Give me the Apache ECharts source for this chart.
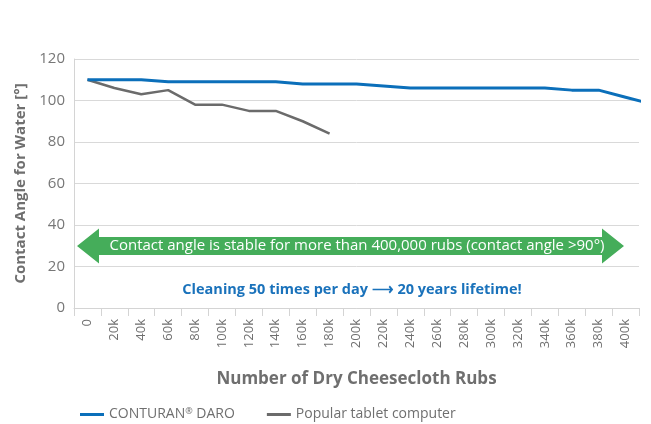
<!DOCTYPE html>
<html>
<head>
<meta charset="utf-8">
<script src="https://cdn.jsdelivr.net/npm/echarts@6/dist/echarts.min.js"></script>
<style>
  html, body { margin: 0; padding: 0; background: #fff; }
  #chart { width: 651px; height: 424px; }
</style>
</head>
<body>
<div id="chart"></div>
<script>
// x categories (last one only carries the line to the edge, it is outside the axis range)
var rubs = ['0', '20k', '40k', '60k', '80k', '100k', '120k', '140k', '160k', '180k', '200k',
  '220k', '240k', '260k', '280k', '300k', '320k', '340k', '360k', '380k', '400k', '420k'];
var conturan = [110, 110, 110, 109, 109, 109, 109, 109, 108, 108, 108,
  107, 106, 106, 106, 106, 106, 106, 105, 105, 101.6, 98.2];
var tablet = [110, 106, 103, 105, 98, 98, 95, 95, 90, 84];
var yTicks = [0, 120, 20];

var font = '"Open Sans", sans-serif';
var grey = '#6f6f6f';

var myChart = echarts.init(document.getElementById('chart'));

// arrow shape (pixel coords)
function arrowPoints(x1, x2, yc, head, hh, bh) {
  return [
    [x1, yc], [x1 + head, yc - hh], [x1 + head, yc - bh],
    [x2 - head, yc - bh], [x2 - head, yc - hh], [x2, yc],
    [x2 - head, yc + hh], [x2 - head, yc + bh], [x1 + head, yc + bh],
    [x1 + head, yc + hh]
  ];
}

myChart.setOption({
  animation: false,
  textStyle: { fontFamily: font },
  grid: { left: 74, right: 12, top: 59, bottom: 116 },
  legend: {
    left: 75,
    top: 402,
    itemWidth: 24,
    itemHeight: 3,
    itemGap: 32,
    icon: 'rect',
    textStyle: {
      color: grey, fontSize: 14, fontFamily: font,
      rich: { sup: { fontSize: 9, verticalAlign: 'top', color: grey, padding: [0, 0, 6, 0] } }
    },
    formatter: function (name) {
      return name === 'CONTURAN® DARO' ? 'CONTURAN{sup|®} DARO' : name;
    },
    data: ['CONTURAN® DARO', 'Popular tablet computer']
  },
  xAxis: {
    type: 'category',
    data: rubs,
    max: 20,
    boundaryGap: true,
    name: 'Number of Dry Cheesecloth Rubs',
    nameLocation: 'middle',
    nameGap: 63,
    nameTextStyle: { color: grey, fontSize: 17, fontWeight: 'bold' },
    axisLine: { lineStyle: { color: '#d4d4d4', width: 1 } },
    axisTick: { show: true, length: 8, lineStyle: { color: '#d4d4d4' } },
    axisLabel: { rotate: 90, color: grey, fontSize: 13, margin: 11, interval: 0 }
  },
  yAxis: {
    type: 'value',
    min: yTicks[0],
    max: yTicks[1],
    interval: yTicks[2],
    name: 'Contact Angle for Water [°]',
    nameLocation: 'middle',
    nameGap: 43,
    nameTextStyle: { color: grey, fontSize: 15, fontWeight: 'bold' },
    axisLine: { show: true, lineStyle: { color: '#d4d4d4' } },
    axisTick: { show: false },
    axisLabel: { color: '#777', fontSize: 15, margin: 9 },
    splitLine: { lineStyle: { color: '#d9d9d9' } }
  },
  series: [{
    name: 'CONTURAN® DARO',
    type: 'line',
    data: conturan,
    symbol: 'none',
    lineStyle: { color: '#0b6fba', width: 3 },
    itemStyle: { color: '#0b6fba' },
    z: 3
  }, {
    name: 'Popular tablet computer',
    type: 'line',
    data: tablet,
    symbol: 'none',
    lineStyle: { color: '#6b6b6b', width: 2.5 },
    itemStyle: { color: '#6b6b6b' },
    z: 2
  }],
  graphic: [{
    type: 'polygon',
    shape: { points: arrowPoints(77, 624, 246, 22, 17.5, 9) },
    style: { fill: '#45ad5a' },
    z: 10
  }, {
    type: 'text',
    x: 357, y: 246,
    style: {
      text: 'Contact angle is stable for more than 400,000 rubs (contact angle >90°)',
      fill: '#fff', fontSize: 15, fontFamily: font,
      align: 'center', verticalAlign: 'middle'
    },
    z: 11
  }, {
    type: 'text',
    x: 352, y: 290,
    style: {
      text: 'Cleaning 50 times per day \u27F6 20 years lifetime!',
      fill: '#1a72bb', fontSize: 14.5, fontWeight: 'bold', fontFamily: font,
      align: 'center', verticalAlign: 'middle'
    },
    z: 11
  }]
});
</script>
</body>
</html>
